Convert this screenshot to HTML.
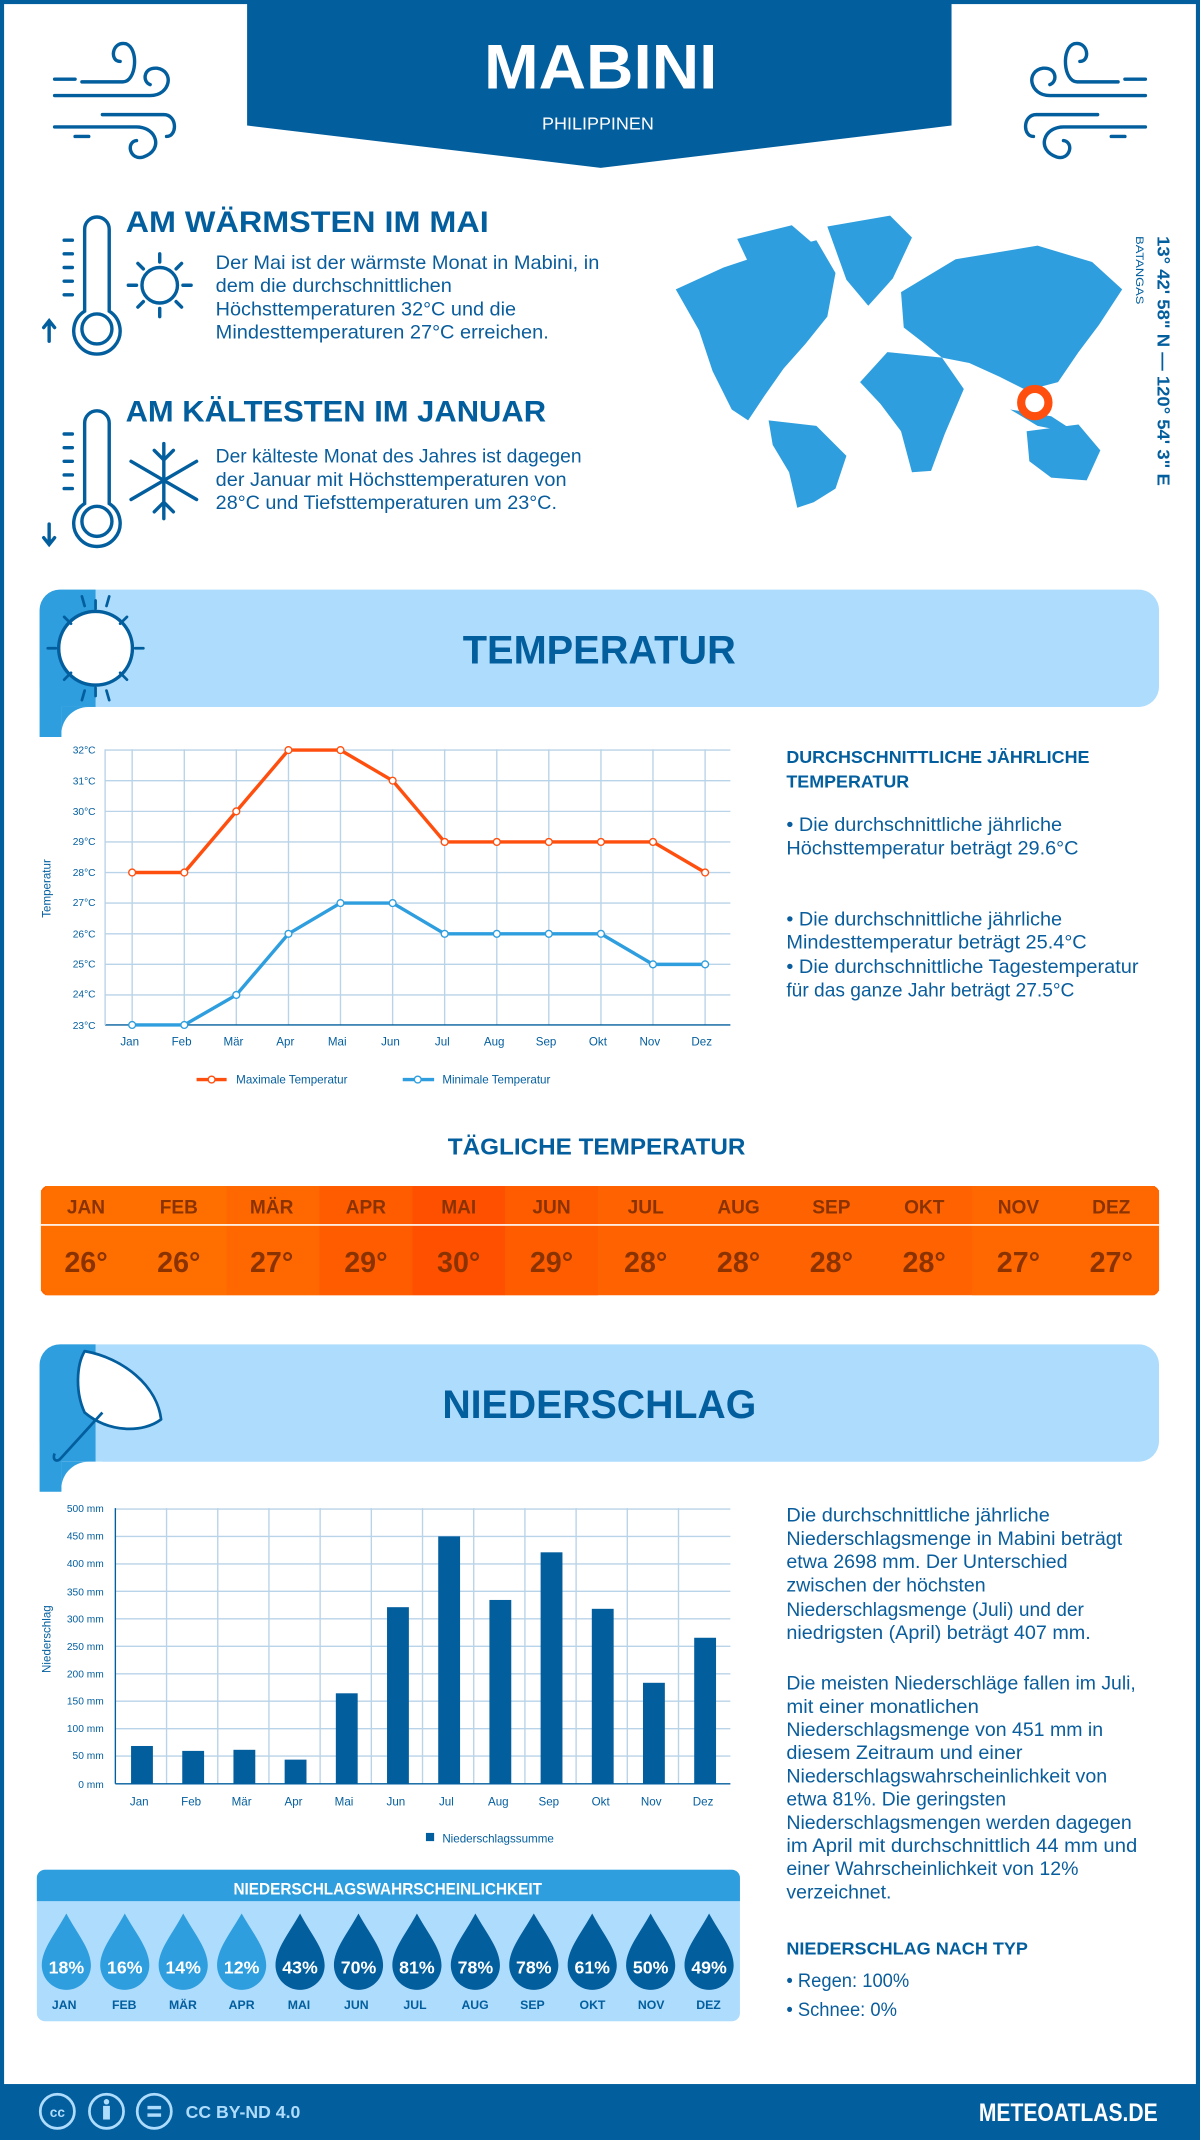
<!DOCTYPE html>
<html><head><meta charset="utf-8"><style>
html,body{margin:0;padding:0;background:#fff;}
svg{display:block;}
text{font-family:"Liberation Sans",sans-serif;}
</style></head><body>
<svg width="1200" height="2140" viewBox="0 0 879 1568" preserveAspectRatio="none" xmlns="http://www.w3.org/2000/svg">
<rect x="0" y="0" width="879" height="1568" fill="#fff"/>
<rect x="0" y="0" width="879" height="1568" fill="none" stroke="#035e9e" stroke-width="6"/>
<!-- header -->
<polygon points="181,0 697,0 697,92 440,123 181,92" fill="#035e9e"/>
<text x="440" y="65" text-anchor="middle" font-size="46" font-weight="bold" fill="#fff" textLength="171" lengthAdjust="spacingAndGlyphs">MABINI</text>
<text x="438" y="95" text-anchor="middle" font-size="13" fill="#fff" textLength="82" lengthAdjust="spacingAndGlyphs">PHILIPPINEN</text>
<!-- wind icons -->
<g fill="none" stroke="#035e9e" stroke-width="2.5" stroke-linecap="round">
<path d="M40,70 H110 C125,70 128,52 115,50 C105,49 104,60 110,62"/>
<path d="M60,60 H90 C100,60 102,35 92,32 C82,30 80,45 88,45"/>
<path d="M40,93 H100 C115,93 120,110 105,115 C95,118 92,104 100,103"/>
<path d="M55,100 H65 M40,58 H55 M75,84 H120 C130,84 130,100 122,100"/>
<path d="M839,70 H769 C754,70 751,52 764,50 C774,49 775,60 769,62"/>
<path d="M819,60 H789 C779,60 777,35 787,32 C797,30 799,45 791,45"/>
<path d="M839,93 H779 C764,93 759,110 774,115 C784,118 787,104 779,103"/>
<path d="M824,100 H814 M839,58 H824 M804,84 H759 C749,84 749,100 757,100"/>
</g>
<!-- warm/cold -->
<text x="92" y="170" font-size="22" font-weight="bold" fill="#035e9e" textLength="266" lengthAdjust="spacingAndGlyphs">AM WÄRMSTEN IM MAI</text>
<g font-size="14" fill="#0a5d9c">
<text x="158" y="197" textLength="281" lengthAdjust="spacingAndGlyphs">Der Mai ist der wärmste Monat in Mabini, in</text>
<text x="158" y="214" textLength="173" lengthAdjust="spacingAndGlyphs">dem die durchschnittlichen</text>
<text x="158" y="231" textLength="220" lengthAdjust="spacingAndGlyphs">Höchsttemperaturen 32°C und die</text>
<text x="158" y="248" textLength="244" lengthAdjust="spacingAndGlyphs">Mindesttemperaturen 27°C erreichen.</text>
</g>
<text x="92" y="309" font-size="22" font-weight="bold" fill="#035e9e" textLength="308" lengthAdjust="spacingAndGlyphs">AM KÄLTESTEN IM JANUAR</text>
<g font-size="14" fill="#0a5d9c">
<text x="158" y="339" textLength="268" lengthAdjust="spacingAndGlyphs">Der kälteste Monat des Jahres ist dagegen</text>
<text x="158" y="356" textLength="257" lengthAdjust="spacingAndGlyphs">der Januar mit Höchsttemperaturen von</text>
<text x="158" y="373" textLength="250" lengthAdjust="spacingAndGlyphs">28°C und Tiefsttemperaturen um 23°C.</text>
</g>
<!-- thermometers -->
<g fill="none" stroke="#035e9e" stroke-width="2.5" stroke-linecap="round">
<path d="M62,228 V168 A9,9 0 0 1 80,168 V228 A17,17 0 1 1 62,228 Z"/>
<circle cx="71" cy="241" r="11"/>
<path d="M47,176 H53 M47,186 H53 M47,196 H53 M47,206 H53 M47,216 H53 M36,250 V236 M32,240 L36,235 L40,240"/>
<path d="M62,369 V310 A9,9 0 0 1 80,310 V369 A17,17 0 1 1 62,369 Z"/>
<circle cx="71" cy="382" r="11"/>
<path d="M47,318 H53 M47,328 H53 M47,338 H53 M47,348 H53 M47,358 H53 M36,384 V398 M32,394 L36,399 L40,394"/>
<circle cx="117" cy="209" r="13"/>
<path d="M117,186 V192 M117,226 V232 M94,209 H100 M134,209 H140 M101,193 L105,197 M129,221 L133,225 M133,193 L129,197 M105,221 L101,225"/>
<path d="M120,325 V380 M96,338 L144,366 M96,366 L144,338 M113,330 L120,337 L127,330 M113,375 L120,368 L127,375"/>
</g>
<!-- map -->
<g fill="#2e9ede">
<path d="M495,212 L530,196 L560,186 L598,176 L612,200 L606,232 L590,252 L574,270 L560,290 L548,308 L536,300 L522,272 L512,242 Z"/>
<path d="M540,175 L580,165 L595,178 L570,190 L548,192 Z"/>
<path d="M606,166 L652,158 L668,174 L654,204 L636,224 L620,205 Z"/>
<path d="M563,308 L598,312 L620,334 L612,358 L596,368 L584,372 L578,346 L566,326 Z"/>
<path d="M660,214 L700,190 L760,180 L800,192 L822,212 L805,238 L790,258 L775,280 L752,286 L732,276 L710,266 L690,262 L675,250 L662,240 Z"/>
<path d="M650,258 L690,262 L706,285 L692,318 L682,345 L668,346 L660,316 L645,296 L630,280 Z"/>
<path d="M752,316 L790,311 L806,330 L796,352 L770,350 L754,338 Z"/>
<path d="M740,300 L770,305 L790,318 L760,312 Z"/>
</g>
<circle cx="758" cy="295" r="10" fill="none" stroke="#ff4f0f" stroke-width="6"/>
<text transform="translate(848,173) rotate(90)" font-size="13" font-weight="bold" fill="#035e9e" textLength="183" lengthAdjust="spacingAndGlyphs">13° 42' 58" N — 120° 54' 3" E</text>
<text transform="translate(832,173) rotate(90)" font-size="8" fill="#035e9e" textLength="50" lengthAdjust="spacingAndGlyphs">BATANGAS</text>
<!-- temperature banner -->
<rect x="29" y="432" width="820" height="86" rx="15" fill="#aedcfd"/>
<path d="M70,432 H44 A15,15 0 0 0 29,447 V540 H45 A25,25 0 0 1 60,518 H70 Z" fill="#2e9ede"/>
<rect x="45" y="518" width="30" height="25" fill="#fff"/>
<path d="M45,540 A20,20 0 0 1 65,518 H45 Z" fill="#2e9ede"/>
<circle cx="70" cy="475" r="27" fill="#fff" stroke="#035e9e" stroke-width="2.5"/>
<g stroke="#035e9e" stroke-width="2" stroke-linecap="round">
<path d="M70,440 V446 M70,504 V510 M35,475 H41 M99,475 H105 M47,452 L52,457 M88,493 L93,498 M93,452 L88,457 M52,493 L47,498 M60,437 L62,444 M80,437 L78,444 M60,513 L62,506 M80,513 L78,506"/>
</g>
<text x="439" y="486" text-anchor="middle" font-size="29" font-weight="bold" fill="#035e9e" textLength="200" lengthAdjust="spacingAndGlyphs">TEMPERATUR</text>
<!-- temp chart -->
<g stroke="#b9d3e8" stroke-width="1">
<line x1="77" y1="549.6" x2="535" y2="549.6"/><line x1="77" y1="572" x2="535" y2="572"/><line x1="77" y1="594.5" x2="535" y2="594.5"/><line x1="77" y1="616.9" x2="535" y2="616.9"/><line x1="77" y1="639.3" x2="535" y2="639.3"/><line x1="77" y1="661.7" x2="535" y2="661.7"/><line x1="77" y1="684.2" x2="535" y2="684.2"/><line x1="77" y1="706.6" x2="535" y2="706.6"/><line x1="77" y1="729" x2="535" y2="729"/>
<line x1="96.8" y1="549" x2="96.8" y2="751"/><line x1="135" y1="549" x2="135" y2="751"/><line x1="173.1" y1="549" x2="173.1" y2="751"/><line x1="211.3" y1="549" x2="211.3" y2="751"/><line x1="249.4" y1="549" x2="249.4" y2="751"/><line x1="287.6" y1="549" x2="287.6" y2="751"/><line x1="325.7" y1="549" x2="325.7" y2="751"/><line x1="363.9" y1="549" x2="363.9" y2="751"/><line x1="402" y1="549" x2="402" y2="751"/><line x1="440.2" y1="549" x2="440.2" y2="751"/><line x1="478.3" y1="549" x2="478.3" y2="751"/><line x1="516.5" y1="549" x2="516.5" y2="751"/>
</g>
<line x1="77" y1="751" x2="535" y2="751" stroke="#035e9e" stroke-width="1"/>
<line x1="77" y1="549" x2="77" y2="751" stroke="#b9d3e8" stroke-width="1"/>
<g font-size="7.5" fill="#035e9e" text-anchor="end">
<text x="70" y="552">32°C</text><text x="70" y="575">31°C</text><text x="70" y="597">30°C</text><text x="70" y="619">29°C</text><text x="70" y="642">28°C</text><text x="70" y="664">27°C</text><text x="70" y="687">26°C</text><text x="70" y="709">25°C</text><text x="70" y="731">24°C</text><text x="70" y="754">23°C</text>
</g>
<g font-size="8.5" fill="#035e9e" text-anchor="middle">
<text x="95" y="766">Jan</text><text x="133" y="766">Feb</text><text x="171" y="766">Mär</text><text x="209" y="766">Apr</text><text x="247" y="766">Mai</text><text x="286" y="766">Jun</text><text x="324" y="766">Jul</text><text x="362" y="766">Aug</text><text x="400" y="766">Sep</text><text x="438" y="766">Okt</text><text x="476" y="766">Nov</text><text x="514" y="766">Dez</text>
</g>
<text transform="translate(37,651) rotate(-90)" font-size="8.5" fill="#035e9e" text-anchor="middle">Temperatur</text>
<polyline fill="none" stroke="#ff4f0f" stroke-width="2.5" points="96.8,639.3 135,639.3 173.1,594.5 211.3,549.6 249.4,549.6 287.6,572 325.7,616.9 363.9,616.9 402,616.9 440.2,616.9 478.3,616.9 516.5,639.3"/>
<polyline fill="none" stroke="#2e9ede" stroke-width="2.5" points="96.8,751 135,751 173.1,729 211.3,684.2 249.4,661.7 287.6,661.7 325.7,684.2 363.9,684.2 402,684.2 440.2,684.2 478.3,706.6 516.5,706.6"/>
<g fill="#fff" stroke="#ff4f0f" stroke-width="1">
<circle cx="96.8" cy="639.3" r="2.5"/><circle cx="135" cy="639.3" r="2.5"/><circle cx="173.1" cy="594.5" r="2.5"/><circle cx="211.3" cy="549.6" r="2.5"/><circle cx="249.4" cy="549.6" r="2.5"/><circle cx="287.6" cy="572" r="2.5"/><circle cx="325.7" cy="616.9" r="2.5"/><circle cx="363.9" cy="616.9" r="2.5"/><circle cx="402" cy="616.9" r="2.5"/><circle cx="440.2" cy="616.9" r="2.5"/><circle cx="478.3" cy="616.9" r="2.5"/><circle cx="516.5" cy="639.3" r="2.5"/>
</g>
<g fill="#fff" stroke="#2e9ede" stroke-width="1">
<circle cx="96.8" cy="751" r="2.5"/><circle cx="135" cy="751" r="2.5"/><circle cx="173.1" cy="729" r="2.5"/><circle cx="211.3" cy="684.2" r="2.5"/><circle cx="249.4" cy="661.7" r="2.5"/><circle cx="287.6" cy="661.7" r="2.5"/><circle cx="325.7" cy="684.2" r="2.5"/><circle cx="363.9" cy="684.2" r="2.5"/><circle cx="402" cy="684.2" r="2.5"/><circle cx="440.2" cy="684.2" r="2.5"/><circle cx="478.3" cy="706.6" r="2.5"/><circle cx="516.5" cy="706.6" r="2.5"/>
</g>
<line x1="144" y1="791" x2="166" y2="791" stroke="#ff4f0f" stroke-width="2.5"/><circle cx="155" cy="791" r="2.5" fill="#fff" stroke="#ff4f0f"/>
<text x="173" y="794" font-size="8.5" fill="#035e9e">Maximale Temperatur</text>
<line x1="295" y1="791" x2="318" y2="791" stroke="#2e9ede" stroke-width="2.5"/><circle cx="306" cy="791" r="2.5" fill="#fff" stroke="#2e9ede"/>
<text x="324" y="794" font-size="8.5" fill="#035e9e">Minimale Temperatur</text>
<!-- right temp text -->
<text x="576" y="559" font-size="13" font-weight="bold" fill="#035e9e" textLength="222" lengthAdjust="spacingAndGlyphs">DURCHSCHNITTLICHE JÄHRLICHE</text>
<text x="576" y="577" font-size="13" font-weight="bold" fill="#035e9e" textLength="90" lengthAdjust="spacingAndGlyphs">TEMPERATUR</text>
<g font-size="14" fill="#0a5d9c">
<text x="576" y="609" textLength="202" lengthAdjust="spacingAndGlyphs">• Die durchschnittliche jährliche</text>
<text x="576" y="626" textLength="214" lengthAdjust="spacingAndGlyphs">Höchsttemperatur beträgt 29.6°C</text>
<text x="576" y="678" textLength="202" lengthAdjust="spacingAndGlyphs">• Die durchschnittliche jährliche</text>
<text x="576" y="695" textLength="220" lengthAdjust="spacingAndGlyphs">Mindesttemperatur beträgt 25.4°C</text>
<text x="576" y="713" textLength="258" lengthAdjust="spacingAndGlyphs">• Die durchschnittliche Tagestemperatur</text>
<text x="576" y="730" textLength="211" lengthAdjust="spacingAndGlyphs">für das ganze Jahr beträgt 27.5°C</text>
</g>
<!-- daily -->
<text x="437" y="846" text-anchor="middle" font-size="17" font-weight="bold" fill="#035e9e" textLength="218" lengthAdjust="spacingAndGlyphs">TÄGLICHE TEMPERATUR</text>
<rect x="30" y="869" width="819" height="80" rx="5" fill="#ff6200"/>
<rect x="33" y="869" width="133" height="80" fill="#ff6f00"/>
<rect x="30" y="872" width="10" height="74" fill="#ff6f00"/>
<rect x="166" y="869" width="68" height="80" fill="#ff6800"/>
<rect x="234" y="869" width="68" height="80" fill="#ff5c00"/>
<rect x="302" y="869" width="68" height="80" fill="#ff5000"/>
<rect x="370" y="869" width="68" height="80" fill="#ff5c00"/>
<rect x="712" y="869" width="134" height="80" fill="#ff6800"/>
<rect x="840" y="872" width="9" height="74" fill="#ff6800"/>
<line x1="30" y1="897.5" x2="849" y2="897.5" stroke="#fff" stroke-width="1.2"/>
<g font-size="14" font-weight="bold" fill="#8b3300" text-anchor="middle">
<text x="63" y="889">JAN</text><text x="131" y="889">FEB</text><text x="199" y="889">MÄR</text><text x="268" y="889">APR</text><text x="336" y="889">MAI</text><text x="404" y="889">JUN</text><text x="473" y="889">JUL</text><text x="541" y="889">AUG</text><text x="609" y="889">SEP</text><text x="677" y="889">OKT</text><text x="746" y="889">NOV</text><text x="814" y="889">DEZ</text>
</g>
<g font-size="21" font-weight="bold" fill="#8b3300" text-anchor="middle">
<text x="63" y="932">26°</text><text x="131" y="932">26°</text><text x="199" y="932">27°</text><text x="268" y="932">29°</text><text x="336" y="932">30°</text><text x="404" y="932">29°</text><text x="473" y="932">28°</text><text x="541" y="932">28°</text><text x="609" y="932">28°</text><text x="677" y="932">28°</text><text x="746" y="932">27°</text><text x="814" y="932">27°</text>
</g>
<!-- precip banner -->
<rect x="29" y="985" width="820" height="86" rx="15" fill="#aedcfd"/>
<path d="M70,985 H44 A15,15 0 0 0 29,1000 V1093 H45 A25,25 0 0 1 60,1071 H70 Z" fill="#2e9ede"/>
<rect x="45" y="1071" width="30" height="25" fill="#fff"/>
<path d="M45,1093 A20,20 0 0 1 65,1071 H45 Z" fill="#2e9ede"/>
<g fill="#fff" stroke="#035e9e" stroke-width="2" stroke-linejoin="round">
<path d="M62,990 C90,995 115,1015 118,1040 C105,1050 80,1050 62,1035 C55,1020 56,1000 62,990 Z"/>
</g>
<path d="M75,1035 L45,1068 C42,1072 38,1070 40,1065" fill="none" stroke="#035e9e" stroke-width="2"/>
<text x="439" y="1039" text-anchor="middle" font-size="29" font-weight="bold" fill="#035e9e" textLength="230" lengthAdjust="spacingAndGlyphs">NIEDERSCHLAG</text>
<!-- precip chart -->
<g stroke="#b9d3e8" stroke-width="1">
<line x1="84.5" y1="1105.7" x2="535" y2="1105.7"/><line x1="84.5" y1="1125.8" x2="535" y2="1125.8"/><line x1="84.5" y1="1145.9" x2="535" y2="1145.9"/><line x1="84.5" y1="1166" x2="535" y2="1166"/><line x1="84.5" y1="1186.1" x2="535" y2="1186.1"/><line x1="84.5" y1="1206.3" x2="535" y2="1206.3"/><line x1="84.5" y1="1226.4" x2="535" y2="1226.4"/><line x1="84.5" y1="1246.5" x2="535" y2="1246.5"/><line x1="84.5" y1="1266.6" x2="535" y2="1266.6"/><line x1="84.5" y1="1286.7" x2="535" y2="1286.7"/>
<line x1="122" y1="1105" x2="122" y2="1307"/><line x1="159.5" y1="1105" x2="159.5" y2="1307"/><line x1="197" y1="1105" x2="197" y2="1307"/><line x1="234.5" y1="1105" x2="234.5" y2="1307"/><line x1="272" y1="1105" x2="272" y2="1307"/><line x1="309.5" y1="1105" x2="309.5" y2="1307"/><line x1="347" y1="1105" x2="347" y2="1307"/><line x1="384.5" y1="1105" x2="384.5" y2="1307"/><line x1="422" y1="1105" x2="422" y2="1307"/><line x1="459.5" y1="1105" x2="459.5" y2="1307"/><line x1="497" y1="1105" x2="497" y2="1307"/>
</g>
<line x1="84.5" y1="1105" x2="84.5" y2="1307" stroke="#035e9e"/>
<line x1="84.5" y1="1307" x2="535" y2="1307" stroke="#035e9e"/>
<g fill="#035e9e">
<rect x="96" y="1279.3" width="16" height="27.7"/><rect x="133.5" y="1282.9" width="16" height="24.1"/><rect x="171" y="1282.1" width="16" height="24.9"/><rect x="208.5" y="1289.3" width="16" height="17.7"/><rect x="246" y="1240.7" width="16" height="66.3"/><rect x="283.5" y="1177.6" width="16" height="129.4"/><rect x="321" y="1125.7" width="16" height="181.3"/><rect x="358.5" y="1172.3" width="16" height="134.7"/><rect x="396" y="1137.4" width="16" height="169.6"/><rect x="433.5" y="1178.8" width="16" height="128.2"/><rect x="471" y="1233" width="16" height="74"/><rect x="508.5" y="1200" width="16" height="107"/>
</g>
<g font-size="7.5" fill="#035e9e" text-anchor="end">
<text x="76" y="1108">500 mm</text><text x="76" y="1128">450 mm</text><text x="76" y="1148">400 mm</text><text x="76" y="1169">350 mm</text><text x="76" y="1189">300 mm</text><text x="76" y="1209">250 mm</text><text x="76" y="1229">200 mm</text><text x="76" y="1249">150 mm</text><text x="76" y="1269">100 mm</text><text x="76" y="1289">50 mm</text><text x="76" y="1310">0 mm</text>
</g>
<g font-size="8.5" fill="#035e9e" text-anchor="middle">
<text x="102" y="1323">Jan</text><text x="140" y="1323">Feb</text><text x="177" y="1323">Mär</text><text x="215" y="1323">Apr</text><text x="252" y="1323">Mai</text><text x="290" y="1323">Jun</text><text x="327" y="1323">Jul</text><text x="365" y="1323">Aug</text><text x="402" y="1323">Sep</text><text x="440" y="1323">Okt</text><text x="477" y="1323">Nov</text><text x="515" y="1323">Dez</text>
</g>
<text transform="translate(37,1201) rotate(-90)" font-size="8.5" fill="#035e9e" text-anchor="middle">Niederschlag</text>
<rect x="312" y="1343" width="6" height="6" fill="#035e9e"/>
<text x="324" y="1350" font-size="8.5" fill="#035e9e">Niederschlagssumme</text>
<!-- probability -->
<rect x="27" y="1370" width="515" height="111" rx="6" fill="#aedcfd"/>
<path d="M27,1393 V1376 A6,6 0 0 1 33,1370 H536 A6,6 0 0 1 542,1376 V1393 Z" fill="#2e9ede"/>
<text x="284" y="1388" text-anchor="middle" font-size="12" font-weight="bold" fill="#fff" textLength="226" lengthAdjust="spacingAndGlyphs">NIEDERSCHLAGSWAHRSCHEINLICHKEIT</text>
<g id="drops">
<path d="M48.6,1402 C56,1416 66.6,1428 66.6,1440 A18,18 0 0 1 30.6,1440 C30.6,1428 41,1416 48.6,1402 Z" fill="#2e9ede"/>
<path d="M91.4,1402 C99,1416 109.4,1428 109.4,1440 A18,18 0 0 1 73.4,1440 C73.4,1428 84,1416 91.4,1402 Z" fill="#2e9ede"/>
<path d="M134.2,1402 C142,1416 152.2,1428 152.2,1440 A18,18 0 0 1 116.2,1440 C116.2,1428 127,1416 134.2,1402 Z" fill="#2e9ede"/>
<path d="M177,1402 C185,1416 195,1428 195,1440 A18,18 0 0 1 159,1440 C159,1428 169,1416 177,1402 Z" fill="#2e9ede"/>
<path d="M219.8,1402 C227,1416 237.8,1428 237.8,1440 A18,18 0 0 1 201.8,1440 C201.8,1428 212,1416 219.8,1402 Z" fill="#035e9e"/>
<path d="M262.6,1402 C270,1416 280.6,1428 280.6,1440 A18,18 0 0 1 244.6,1440 C244.6,1428 255,1416 262.6,1402 Z" fill="#035e9e"/>
<path d="M305.4,1402 C313,1416 323.4,1428 323.4,1440 A18,18 0 0 1 287.4,1440 C287.4,1428 298,1416 305.4,1402 Z" fill="#035e9e"/>
<path d="M348.2,1402 C356,1416 366.2,1428 366.2,1440 A18,18 0 0 1 330.2,1440 C330.2,1428 341,1416 348.2,1402 Z" fill="#035e9e"/>
<path d="M391,1402 C399,1416 409,1428 409,1440 A18,18 0 0 1 373,1440 C373,1428 383,1416 391,1402 Z" fill="#035e9e"/>
<path d="M433.8,1402 C441,1416 451.8,1428 451.8,1440 A18,18 0 0 1 415.8,1440 C415.8,1428 426,1416 433.8,1402 Z" fill="#035e9e"/>
<path d="M476.6,1402 C484,1416 494.6,1428 494.6,1440 A18,18 0 0 1 458.6,1440 C458.6,1428 469,1416 476.6,1402 Z" fill="#035e9e"/>
<path d="M519.4,1402 C527,1416 537.4,1428 537.4,1440 A18,18 0 0 1 501.4,1440 C501.4,1428 512,1416 519.4,1402 Z" fill="#035e9e"/>
</g>
<g font-size="13" font-weight="bold" fill="#fff" text-anchor="middle">
<text x="48.6" y="1446">18%</text><text x="91.4" y="1446">16%</text><text x="134.2" y="1446">14%</text><text x="177" y="1446">12%</text><text x="219.8" y="1446">43%</text><text x="262.6" y="1446">70%</text><text x="305.4" y="1446">81%</text><text x="348.2" y="1446">78%</text><text x="391" y="1446">78%</text><text x="433.8" y="1446">61%</text><text x="476.6" y="1446">50%</text><text x="519.4" y="1446">49%</text>
</g>
<g font-size="9" font-weight="bold" fill="#035e9e" text-anchor="middle">
<text x="47" y="1472">JAN</text><text x="91" y="1472">FEB</text><text x="134" y="1472">MÄR</text><text x="177" y="1472">APR</text><text x="219" y="1472">MAI</text><text x="261" y="1472">JUN</text><text x="304" y="1472">JUL</text><text x="348" y="1472">AUG</text><text x="390" y="1472">SEP</text><text x="434" y="1472">OKT</text><text x="477" y="1472">NOV</text><text x="519" y="1472">DEZ</text>
</g>
<!-- right precip text -->
<g font-size="14" fill="#0a5d9c">
<text x="576" y="1115" textLength="193" lengthAdjust="spacingAndGlyphs">Die durchschnittliche jährliche</text>
<text x="576" y="1132" textLength="246" lengthAdjust="spacingAndGlyphs">Niederschlagsmenge in Mabini beträgt</text>
<text x="576" y="1149" textLength="206" lengthAdjust="spacingAndGlyphs">etwa 2698 mm. Der Unterschied</text>
<text x="576" y="1166" textLength="146" lengthAdjust="spacingAndGlyphs">zwischen der höchsten</text>
<text x="576" y="1184" textLength="218" lengthAdjust="spacingAndGlyphs">Niederschlagsmenge (Juli) und der</text>
<text x="576" y="1201" textLength="223" lengthAdjust="spacingAndGlyphs">niedrigsten (April) beträgt 407 mm.</text>
<text x="576" y="1238" textLength="256" lengthAdjust="spacingAndGlyphs">Die meisten Niederschläge fallen im Juli,</text>
<text x="576" y="1255" textLength="141" lengthAdjust="spacingAndGlyphs">mit einer monatlichen</text>
<text x="576" y="1272" textLength="232" lengthAdjust="spacingAndGlyphs">Niederschlagsmenge von 451 mm in</text>
<text x="576" y="1289" textLength="173" lengthAdjust="spacingAndGlyphs">diesem Zeitraum und einer</text>
<text x="576" y="1306" textLength="235" lengthAdjust="spacingAndGlyphs">Niederschlagswahrscheinlichkeit von</text>
<text x="576" y="1323" textLength="161" lengthAdjust="spacingAndGlyphs">etwa 81%. Die geringsten</text>
<text x="576" y="1340" textLength="253" lengthAdjust="spacingAndGlyphs">Niederschlagsmengen werden dagegen</text>
<text x="576" y="1357" textLength="257" lengthAdjust="spacingAndGlyphs">im April mit durchschnittlich 44 mm und</text>
<text x="576" y="1374" textLength="214" lengthAdjust="spacingAndGlyphs">einer Wahrscheinlichkeit von 12%</text>
<text x="576" y="1391" textLength="77" lengthAdjust="spacingAndGlyphs">verzeichnet.</text>
</g>
<text x="576" y="1432" font-size="13" font-weight="bold" fill="#035e9e" textLength="177" lengthAdjust="spacingAndGlyphs">NIEDERSCHLAG NACH TYP</text>
<text x="576" y="1456" font-size="14" fill="#0a5d9c" textLength="90" lengthAdjust="spacingAndGlyphs">• Regen: 100%</text>
<text x="576" y="1477" font-size="14" fill="#0a5d9c" textLength="81" lengthAdjust="spacingAndGlyphs">• Schnee: 0%</text>
<!-- footer -->
<rect x="0" y="1527" width="879" height="41" fill="#035e9e"/>
<g fill="none" stroke="#aedcfd" stroke-width="2">
<circle cx="42" cy="1547" r="12.5"/><circle cx="78" cy="1547" r="12.5"/><circle cx="113" cy="1547" r="12.5"/>
</g>
<text x="42" y="1551" font-size="10" font-weight="bold" fill="#aedcfd" text-anchor="middle">cc</text>
<circle cx="78" cy="1540" r="2" fill="#aedcfd"/><rect x="75.5" y="1543" width="5" height="10" fill="#aedcfd"/>
<rect x="108" y="1543" width="10" height="2.5" fill="#aedcfd"/><rect x="108" y="1548.5" width="10" height="2.5" fill="#aedcfd"/>
<text x="136" y="1552" font-size="13" font-weight="bold" fill="#aedcfd" textLength="84" lengthAdjust="spacingAndGlyphs">CC BY-ND 4.0</text>
<text x="848" y="1554" text-anchor="end" font-size="18" font-weight="bold" fill="#fff" textLength="131" lengthAdjust="spacingAndGlyphs">METEOATLAS.DE</text>
</svg>
</body></html>
